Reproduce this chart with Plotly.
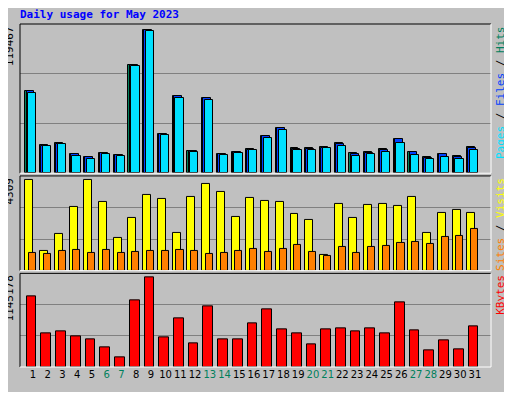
import plotly.graph_objects as go

days = list(range(1, 32))
weekend = [6, 7, 13, 14, 20, 21, 27, 28]

hits = [68650, 23250, 24870, 15950, 13510, 16760, 15140, 90550, 119467, 32980,
        64600, 18920, 62980, 15950, 17570, 20000, 31350, 37840, 20810, 20810,
        21620, 24870, 16760, 17570, 20000, 28920, 17570, 13510, 15950, 14330, 21620]
files = [68100, 22900, 24600, 15700, 13200, 16500, 14900, 89800, 119000, 32700,
         64000, 18600, 62400, 15700, 17300, 19700, 30800, 37300, 20300, 20300,
         21100, 24300, 16200, 17000, 19500, 28100, 17300, 13000, 15600, 13800, 21000]
pages = [67030, 22430, 24060, 14330, 11890, 15950, 14330, 89740, 118660, 32170,
         62980, 17570, 61360, 15140, 16760, 19190, 29730, 36220, 19190, 19190,
         20810, 22430, 14330, 15950, 17570, 25240, 15140, 11890, 13510, 11890, 19190]
visits = [4309, 950, 1749, 3013, 4309, 3247, 1561, 2498, 3575, 3388,
          1795, 3481, 4137, 3716, 2545, 3434, 3294, 3247, 2685, 2404,
          765, 3169, 2498, 3107, 3169, 3060, 3481, 1795, 2732, 2872, 2732]
sites = [859, 812, 952, 999, 859, 999, 859, 906, 952, 952,
         999, 952, 812, 859, 952, 1046, 906, 1046, 1233, 906,
         718, 1140, 859, 1140, 1186, 1327, 1374, 1280, 1608, 1655, 1983]
kbytes = [907000, 429000, 454000, 391000, 354000, 254000, 117000, 845000, 1145178, 383000,
          620000, 296000, 770000, 354000, 354000, 554000, 733000, 483000, 433000, 283000,
          483000, 496000, 458000, 496000, 433000, 820000, 470000, 208000, 346000, 221000, 521000]

BG = "#c0c0c0"
fig = go.Figure()


def bars(y, color, offset, width, axis):
    fig.add_trace(go.Bar(
        x=days, y=y, yaxis=axis, offset=offset, width=width,
        marker=dict(color=color, line=dict(color="black", width=1)),
        showlegend=False,
    ))


bars(hits, "#00805c", -0.52, 0.54, "y")
bars(files, "#0040ff", -0.44, 0.54, "y")
bars(pages, "#00e0ff", -0.33, 0.56, "y")
bars(visits, "#ffff00", -0.52, 0.54, "y2")
bars(sites, "#ff8000", -0.26, 0.48, "y2")
bars(kbytes, "#ff0000", -0.43, 0.66, "y3")

ticktext = [f"<span style='color:#00805c'>{d}</span>" if d in weekend else str(d) for d in days]


def yax(top, dom):
    r = top
    return dict(domain=dom, range=[0, r], tickvals=[r / 3, 2 * r / 3], showticklabels=False,
                showgrid=True, gridcolor="#808080", gridwidth=1, zeroline=False, ticks="")


fig.update_layout(
    width=496, height=384,
    margin=dict(l=12, r=13, t=16, b=16),
    paper_bgcolor=BG, plot_bgcolor=BG,
    barmode="overlay", bargap=0,
    font=dict(family="DejaVu Sans Mono", size=11, color="black"),
    xaxis=dict(range=[0.117, 32.09], tickvals=days, ticktext=ticktext, anchor="y3", tickangle=0,
               showgrid=False, zeroline=False, ticks="", tickfont=dict(family="DejaVu Sans", size=10)),
    yaxis=yax(124343, [0.565, 1]),
    yaxis2=yax(4496, [0.281, 0.557]),
    yaxis3=yax(1195150, [0, 0.273]),
    title=dict(text="<b>Daily usage for May 2023</b>", x=0.0, xanchor="left", xref="paper",
               y=0.995, yanchor="top",
               font=dict(family="DejaVu Sans Mono", size=11, color="#0000ff")),
)

# panel frames (sunken look)
for y0, y1 in [(0.565, 1), (0.281, 0.557), (0, 0.273)]:
    fig.add_shape(type="line", xref="paper", yref="paper", x0=0, x1=1, y0=y1, y1=y1, line=dict(color="black", width=1))
    fig.add_shape(type="line", xref="paper", yref="paper", x0=0, x1=0, y0=y0, y1=y1, line=dict(color="black", width=1))
    fig.add_shape(type="line", xref="paper", yref="paper", x0=0, x1=1, y0=y0, y1=y0, line=dict(color="white", width=1))
    fig.add_shape(type="line", xref="paper", yref="paper", x0=1, x1=1, y0=y0, y1=y1, line=dict(color="white", width=1))

for txt, y in [("119467", 1.0), ("4309", 0.557), ("1145178", 0.273)]:
    fig.add_annotation(text=txt, xref="paper", yref="paper", x=-0.005, y=y, xanchor="right", yanchor="top",
                       textangle=-90, showarrow=False, font=dict(size=11))

right = [
    ("<span style='color:#00e0ff'>Pages</span> / <span style='color:#0040ff'>Files</span> / "
     "<span style='color:#00805c'>Hits</span>", 1.0),
    ("<span style='color:#ff8000'>Sites</span> / <span style='color:#ffff00'>Visits</span>", 0.557),
    ("<span style='color:#ff0000'>KBytes</span>", 0.273),
]
for txt, y in right:
    fig.add_annotation(text=txt, xref="paper", yref="paper", x=1.0, xshift=1, y=y, xanchor="left", yanchor="top",
                       textangle=-90, showarrow=False, font=dict(size=11))

fig.write_html("out.html")
